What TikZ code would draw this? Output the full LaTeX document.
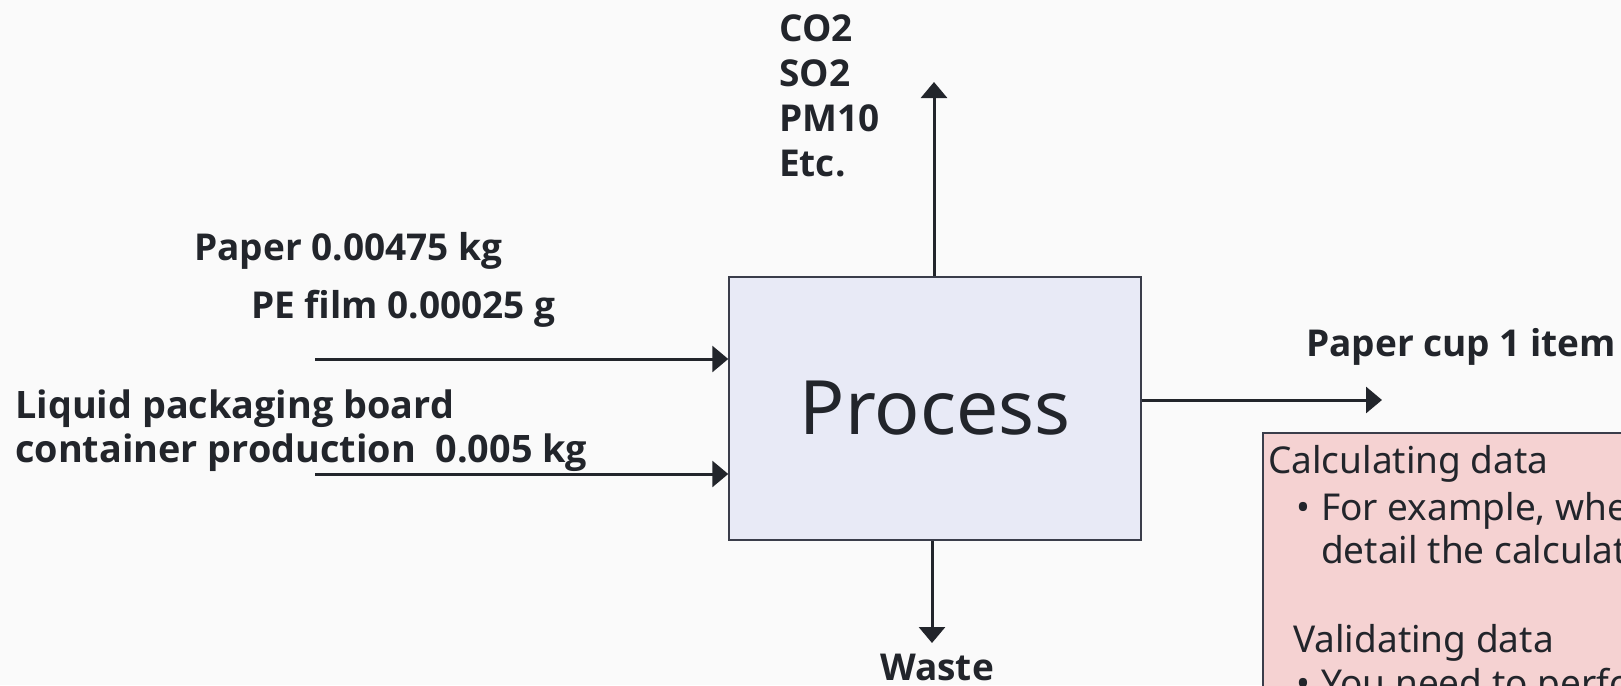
\documentclass[tikz,border=0pt]{standalone}
\usepackage{fontspec}
\IfFontExistsTF{Open Sans Bold}
  {\setmainfont{Noto Sans}[BoldFont={Open Sans Bold}]}
  {\IfFontExistsTF{Open Sans}
     {\setmainfont{Noto Sans}[BoldFont={Open Sans}, BoldFeatures={FakeBold=2.5}]}
     {\setmainfont{Noto Sans}[BoldFont={Noto Sans}, BoldFeatures={FakeBold=2.5}]}}
\usetikzlibrary{arrows.meta}
\definecolor{ink}{RGB}{34,37,43}
\definecolor{bg}{RGB}{250,250,250}
\definecolor{procfill}{RGB}{232,234,246}
\definecolor{notefill}{RGB}{245,210,210}
\definecolor{edge}{RGB}{58,61,74}

\begin{document}
\begin{tikzpicture}[x=1pt,y=-1pt,
  flow/.style={draw=ink, line width=3pt, -{Triangle[length=16pt,width=26pt]}},
  flowlabel/.style={inner sep=0pt, anchor=base west, text=ink,
    font=\fontsize{37}{45}\selectfont\bfseries},
  biglabel/.style={flowlabel, font=\fontsize{37.8}{45}\selectfont\bfseries},
  procbox/.style={draw=edge, line width=1.5pt, fill=procfill, text=ink,
    minimum width=412pt, minimum height=263pt, inner sep=0pt,
    font=\fontsize{75}{80}\selectfont},
  notebox/.style={draw=edge, line width=2pt, fill=notefill,
    minimum width=420pt, minimum height=300pt, inner sep=0pt},
  notetext/.style={inner sep=0pt, anchor=base west, text=ink,
    font=\fontsize{37}{44.5}\selectfont}
]
\useasboundingbox (0,0) rectangle (1621,685);
\fill[bg] (0,0) rectangle (1621,685);
\clip (0,0) rectangle (1621,685);

% central process block
\node[procbox] (proc) at (935,408.5) {Process};

% inputs
\node[flowlabel] (paper) at (194,260) {Paper 0.00475 kg};
\node[flowlabel] (pe) at (251,318) {PE film 0.00025 g};
\node[biglabel] (lpb1) at (15,418) {Liquid packaging board};
\node[biglabel] (lpb2) at (15,462) {container production~~0.005 kg};
\coordinate (in1) at (315,359);
\coordinate (in2) at (315,474);
\draw[flow] (in1) -- (in1 -| proc.west);
\draw[flow] (in2) -- (in2 -| proc.west);

% emissions
\node[flowlabel, anchor=north west, align=left] (emis) at (779,14.5)
  {CO2\\SO2\\PM10\\Etc.};
\coordinate (emisEnd) at (934,82);
\draw[flow] (emisEnd |- proc.north) -- (emisEnd);

% waste
\coordinate (wasteEnd) at (932,643);
\draw[flow] (wasteEnd |- proc.south) -- (wasteEnd);
\node[flowlabel] (waste) at (880,680) {Waste};

% product
\node[flowlabel] (cup) at (1306,356) {Paper cup 1 item};
\coordinate (outEnd) at (1382,400);
\draw[flow] (outEnd -| proc.east) -- (outEnd);

% notes panel
\node[notebox, anchor=north west] (note) at (1262,432) {};
\node[notetext] (calc) at (1268,473) {Calculating data};
\node[notetext] (b1) at (1296,520) {\textbullet};
\node[notetext] (calc1) at (1321,520) {For example, when};
\node[notetext] (calc2) at (1321,563) {detail the calculation};
\node[notetext] (valid) at (1293,652) {Validating data};
\node[notetext] (b2) at (1296,696) {\textbullet};
\node[notetext] (valid1) at (1321,696) {You need to perform};
\end{tikzpicture}
\end{document}
